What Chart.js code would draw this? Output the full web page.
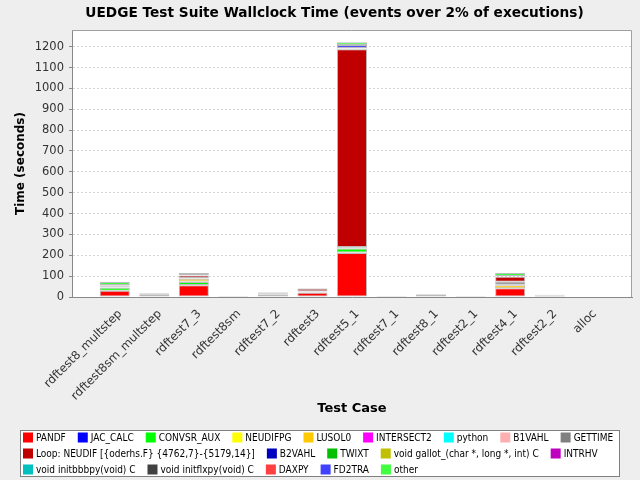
<!DOCTYPE html>
<html>
<head>
<meta charset="utf-8">
<script src="https://cdn.jsdelivr.net/npm/chart.js@4"></script>
<style>
html, body { margin: 0; padding: 0; background: #eeeeee; }
</style>
</head>
<body>
<canvas id="chart" width="640" height="480"></canvas>
<script>
var chartTitle = 'UEDGE Test Suite Wallclock Time (events over 2% of executions)';
var testCases = ['rdftest8_multstep', 'rdftest8sm_multstep', 'rdftest7_3', 'rdftest8sm', 'rdftest7_2',
  'rdftest3', 'rdftest5_1', 'rdftest7_1', 'rdftest8_1', 'rdftest2_1', 'rdftest4_1', 'rdftest2_2', 'alloc'];

// seconds per event, one value per test case (same order as testCases)
var pandf      = [30, 11, 56, 0, 12, 20, 211, 0, 9, 0, 42, 0, 0];
var jacCalc    = [0, 0, 1, 0, 0, 2, 2, 0, 0, 0, 0, 0, 0];
var convsrAux  = [14, 0, 15, 0, 0, 0, 19, 0, 0, 0, 0, 0, 0];
var neudifpg   = [3, 0, 2, 0, 0, 0, 3, 0, 0, 0, 0, 0, 0];
var lusol0     = [0, 0, 13, 0, 0, 0, 0, 0, 0, 0, 14, 0, 0];
var intersect2 = [0, 0, 0, 0, 0, 0, 0, 0, 0, 0, 1, 0, 0];
var python     = [0, 0, 0, 1, 0, 0, 0, 1, 0, 1, 0, 1, 0];
var b1vahl     = [4, 3, 2, 2, 4, 3, 3, 2, 3, 2, 2, 3, 0];
var gettime    = [4, 3, 2, 1, 4, 2, 2, 1, 0, 1, 14, 3, 0];
var loopNeudif = [0, 0, 12, 0, 0, 13, 948, 0, 0, 0, 24, 0, 0];
var b2vahl     = [0, 0, 0, 0, 0, 0, 2, 0, 0, 0, 1, 0, 0];
var twixt      = [0, 0, 1, 0, 0, 0, 0, 0, 0, 0, 0, 0, 0];
var gallot     = [0, 0, 0, 0, 0, 0, 1, 0, 0, 0, 0, 0, 0];
var intrhv     = [0, 0, 0, 0, 0, 0, 0, 0, 0, 0, 1, 0, 0];
var initbbbpy  = [0, 0, 0, 0, 0, 0, 1, 0, 0, 0, 0, 0, 0];
var initflxpy  = [0, 0, 1, 0, 0, 0, 0, 0, 0, 0, 0, 0, 0];
var daxpy      = [3, 0, 0, 0, 2, 1, 2, 0, 0, 0, 2, 2, 0];
var fd2tra     = [0, 0, 0, 0, 0, 0, 14, 0, 0, 0, 0, 0, 0];
var other      = [14, 2, 10, 0, 2, 2, 13, 0, 2, 0, 14, 2, 0];

var seriesNames = ['PANDF', 'JAC_CALC', 'CONVSR_AUX', 'NEUDIFPG', 'LUSOL0', 'INTERSECT2', 'python', 'B1VAHL', 'GETTIME',
  'Loop: NEUDIF [{oderhs.F} {4762,7}-{5179,14}]', 'B2VAHL', 'TWIXT', 'void gallot_(char *, long *, int) C', 'INTRHV',
  'void initbbbpy(void) C', 'void initflxpy(void) C', 'DAXPY', 'FD2TRA', 'other'];
var seriesValues = [pandf, jacCalc, convsrAux, neudifpg, lusol0, intersect2, python, b1vahl, gettime,
  loopNeudif, b2vahl, twixt, gallot, intrhv, initbbbpy, initflxpy, daxpy, fd2tra, other];
var seriesColors = ['#ff0000', '#0000ff', '#00ff00', '#ffff00', '#ffc800', '#ff00ff', '#00ffff', '#ffafaf', '#808080',
  '#c00000', '#0000c0', '#00c000', '#c0c000', '#c000c0', '#00c0c0', '#404040', '#ff4040', '#4040ff', '#40ff40'];

var datasets = [];
for (var i = 0; i < seriesNames.length; i++) {
  datasets.push({
    label: seriesNames[i],
    data: seriesValues[i],
    backgroundColor: seriesColors[i],
    borderColor: '#bbbbbb',
    borderWidth: 1,
    borderSkipped: false,
    categoryPercentage: 0.76,
    barPercentage: 1
  });
}

var FONT = '"DejaVu Sans", sans-serif';
var FONT_NARROW = '"DejaVu Sans Condensed", "DejaVu Sans", sans-serif';

// category axis keeps a wider margin at both ends (like the original plot)
var categoryMargins = {
  id: 'categoryMargins',
  afterLayout: function(chart) {
    var x = chart.scales.x;
    var w = x.right - x.left;
    var margin = w * 0.041;
    x._startPixel = x.left + margin;
    x._endPixel = x.right - margin;
    x._length = x._endPixel - x._startPixel;
  }
};

// white plot background, outline and the title
var plotFrame = {
  id: 'plotFrame',
  beforeDraw: function(chart) {
    var a = chart.chartArea, ctx = chart.ctx;
    ctx.save();
    ctx.fillStyle = '#ffffff';
    ctx.fillRect(a.left, a.top, a.right - a.left, a.bottom - a.top);
    ctx.restore();
  },
  afterDraw: function(chart) {
    var a = chart.chartArea, ctx = chart.ctx;
    ctx.save();
    ctx.strokeStyle = '#a0a0a0';
    ctx.lineWidth = 1;
    ctx.beginPath();
    ctx.moveTo(a.left, a.top + 0.5);
    ctx.lineTo(a.right - 0.5, a.top + 0.5);
    ctx.lineTo(a.right - 0.5, a.bottom);
    ctx.stroke();

    ctx.fillStyle = '#000000';
    ctx.font = 'bold 13.7px ' + FONT;
    ctx.textAlign = 'center';
    ctx.textBaseline = 'middle';
    ctx.fillText(chartTitle, 334.5, 13.5);
    ctx.restore();
  }
};

// boxed legend under the axis title
var boxLegend = {
  id: 'boxLegend',
  afterDraw: function(chart) {
    var ctx = chart.ctx;
    var x0 = 20, y0 = 430, w = 600, h = 47;
    ctx.save();
    ctx.fillStyle = '#ffffff';
    ctx.fillRect(x0, y0, w, h);
    ctx.strokeStyle = '#808080';
    ctx.lineWidth = 1;
    ctx.strokeRect(x0 + 0.5, y0 + 0.5, w - 1, h - 1);
    ctx.font = '10px ' + FONT_NARROW;
    ctx.textBaseline = 'middle';
    var x = x0 + 3, row = 0;
    chart.data.datasets.forEach(function(ds) {
      var tw = ctx.measureText(ds.label).width;
      var itemW = 10 + 3 + tw;
      if (x + itemW > x0 + w - 2) { row++; x = x0 + 3; }
      var cy = y0 + 7.5 + row * 16;
      ctx.fillStyle = ds.backgroundColor;
      ctx.fillRect(x, cy - 5, 10, 10);
      ctx.fillStyle = '#000000';
      ctx.fillText(ds.label, x + 13, cy + 0.5);
      x += itemW + 12;
    });
    ctx.restore();
  }
};

new Chart(document.getElementById('chart'), {
  type: 'bar',
  data: { labels: testCases, datasets: datasets },
  plugins: [categoryMargins, plotFrame, boxLegend],
  options: {
    responsive: false,
    animation: false,
    layout: { padding: { left: 0, right: 8, top: 30, bottom: 55 } },
    plugins: {
      legend: { display: false },
      tooltip: { enabled: false },
      title: { display: false }
    },
    scales: {
      x: {
        stacked: true,
        grid: { display: false, drawTicks: false },
        border: { display: true, color: '#888888' },
        ticks: {
          minRotation: 45, maxRotation: 45, autoSkip: false, padding: 10, labelOffset: 5.5,
          color: '#333333', font: { family: FONT, size: 11.8 }
        },
        title: {
          display: true, text: 'Test Case', color: '#000000',
          font: { family: FONT, size: 13, weight: 'bold' },
          padding: { top: 0, bottom: 9 }
        },
        afterFit: function(scale) { scale.height = 128; }
      },
      y: {
        stacked: true,
        min: 0,
        max: 1280,
        afterBuildTicks: function(scale) {
          scale.ticks = scale.ticks.filter(function(t) { return t.value % 100 === 0; });
        },
        grid: { color: '#d4d4d4', tickLength: 3, tickColor: '#888888' },
        border: { display: true, color: '#888888', dash: [2, 2] },
        ticks: {
          stepSize: 100, padding: 5,
          color: '#333333', font: { family: FONT, size: 11.5 },
          callback: function(v) { return String(v); }
        },
        title: {
          display: true, text: 'Time (seconds)', color: '#000000',
          font: { family: FONT, size: 12, weight: 'bold' },
          padding: { top: 14, bottom: 0 }
        },
        afterFit: function(scale) { scale.width = 72; }
      }
    }
  }
});
</script>
</body>
</html>
